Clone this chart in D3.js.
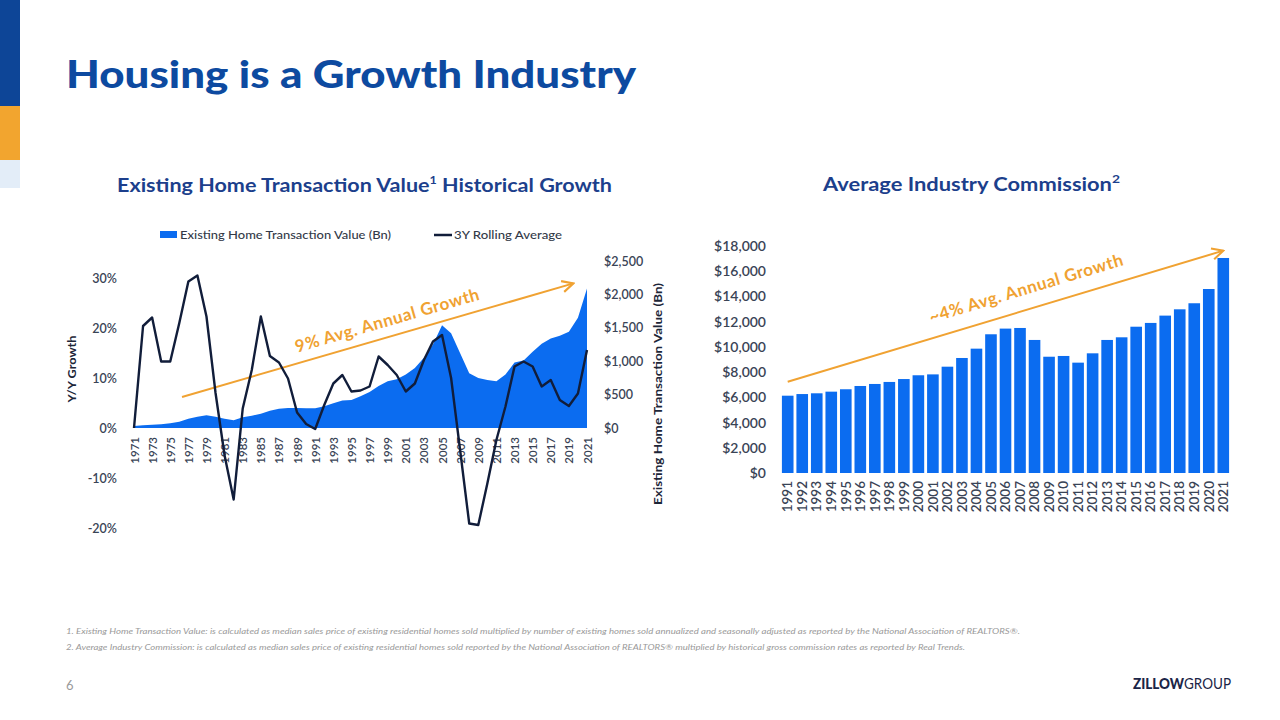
<!DOCTYPE html>
<html><head><meta charset="utf-8">
<script src="https://cdn.jsdelivr.net/npm/d3@7"></script>
<style>
html,body{margin:0;padding:0;background:#fff;}
svg{display:block;font-family:Lato,"Open Sans",sans-serif;}
</style></head>
<body>
<svg id="c" width="1280" height="720"></svg>
<script>
// ---------- data ----------
const txYears = d3.range(1971, 2022);
const txValueBn = [30,40,50,55,70,95,140,170,190,170,140,115,160,185,215,260,290,300,300,295,
  295,325,370,410,420,475,540,630,700,730,800,900,1050,1250,1540,1420,1120,820,750,720,
  700,800,980,1010,1140,1260,1340,1380,1440,1650,2090];
const rollingAvgPct = [0,20.4,22.1,13.3,13.3,21,29.3,30.5,22.3,7,-5.5,-14.3,3.9,11.6,22.3,14.4,13.1,9.9,3.1,0.8,
  -0.2,4.6,8.9,10.6,7.3,7.5,8.3,14.3,12.6,10.6,7.3,8.9,13.6,17.3,18.6,10,-4.5,-19.1,-19.4,-11.1,
  -2.4,4.3,12.3,13.3,12.3,8.3,9.6,5.6,4.4,6.9,15.6];
const leftPctTicks = [-20,-10,0,10,20,30];
const leftValueTicks = [0,500,1000,1500,2000,2500];
const leftYearTicks = d3.range(1971, 2022, 2);

const commYears = d3.range(1991, 2022);
const commission = [6130,6260,6320,6450,6640,6900,7060,7220,7450,7750,7820,8430,9120,9860,
  11000,11450,11500,10550,9220,9280,8750,9490,10550,10760,11600,11900,12480,12980,13460,14590,17050];
const rightTicks = [0,2000,4000,6000,8000,10000,12000,14000,16000,18000];

// annotation trend arrows (in data units)
const leftTrend = [[1976.3, 465],[2019.5, 2165]];
const rightTrend = [[1991, 7240],[2021, 17630]];

// ---------- drawing ----------
const svg = d3.select("#c");
const BLUE = "#0b6cf0", NAVY = "#111d3a", ORANGE = "#f0a232", TXT = "#3a4456";

// side bars
svg.append("rect").attr("x",0).attr("y",0).attr("width",20).attr("height",106).attr("fill","#0d4597");
svg.append("rect").attr("x",0).attr("y",106).attr("width",20).attr("height",54).attr("fill","#f2a52f");
svg.append("rect").attr("x",0).attr("y",160).attr("width",20).attr("height",28).attr("fill","#e3edf8");

// title
svg.append("text").attr("x",66).attr("y",88).attr("font-size",38).attr("font-weight",900)
  .attr("fill","#0d4aa0").attr("textLength",570).attr("lengthAdjust","spacingAndGlyphs")
  .text("Housing is a Growth Industry");

// subtitles
const st1 = svg.append("text").attr("x",117).attr("y",192).attr("font-size",19).attr("font-weight",700)
  .attr("fill","#1c3f8c").attr("textLength",495).attr("lengthAdjust","spacingAndGlyphs");
st1.append("tspan").text("Existing Home Transaction Value");
st1.append("tspan").attr("font-size",11).attr("dy",-8).text("1");
st1.append("tspan").attr("dy",8).text(" Historical Growth");
const st2 = svg.append("text").attr("x",823).attr("y",191).attr("font-size",19).attr("font-weight",700)
  .attr("fill","#1c3f8c").attr("textLength",297).attr("lengthAdjust","spacingAndGlyphs");
st2.append("tspan").text("Average Industry Commission");
st2.append("tspan").attr("font-size",12).attr("dy",-8).text("2");

// ---- left chart ----
const x = d3.scaleLinear().domain([1971,2021]).range([134,587]);
const yL = d3.scaleLinear().domain([-20,30]).range([528,278]);
const yR = d3.scaleLinear().domain([0,2500]).range([428,261]);

const area = d3.area().x((d,i)=>x(txYears[i])).y0(yR(0)).y1(d=>yR(d));
svg.append("path").datum(txValueBn).attr("d",area).attr("fill",BLUE);

// axes
const gl = svg.append("g").attr("transform","translate(123,0)")
  .call(d3.axisLeft(yL).tickValues(leftPctTicks).tickSize(0).tickPadding(6).tickFormat(d=>d+"%"));
gl.select(".domain").remove();
gl.selectAll("text").attr("font-size",12.5).attr("fill",TXT).attr("font-family","Lato").attr("font-weight",600);

const gr = svg.append("g").attr("transform","translate(598,0)")
  .call(d3.axisRight(yR).tickValues(leftValueTicks).tickSize(0).tickPadding(6).tickFormat(d=>"$"+d3.format(",")(d)));
gr.select(".domain").remove();
gr.selectAll("text").attr("font-size",12.5).attr("fill",TXT).attr("font-family","Lato").attr("font-weight",600);

const gx = svg.append("g").attr("transform",`translate(0,${yL(0)})`)
  .call(d3.axisBottom(x).tickValues(leftYearTicks).tickSize(0).tickFormat(d3.format("d")));
gx.select(".domain").remove();
gx.selectAll("text").attr("transform","rotate(-90)").attr("x",-9).attr("y",0).attr("dy","0.35em")
  .attr("text-anchor","end").attr("font-size",11.5).attr("fill",TXT).attr("font-family","Lato").attr("font-weight",600);

// axis titles
svg.append("text").attr("transform","translate(76,369) rotate(-90)").attr("text-anchor","middle")
  .attr("font-size",12).attr("font-weight",700).attr("fill","#1d2638")
  .attr("textLength",67).attr("lengthAdjust","spacingAndGlyphs").text("Y/Y Growth");
svg.append("text").attr("transform","translate(662,394) rotate(-90)").attr("text-anchor","middle")
  .attr("font-size",12).attr("font-weight",700).attr("fill","#1d2638")
  .attr("textLength",222).attr("lengthAdjust","spacingAndGlyphs").text("Existing Home Transaction Value (Bn)");

// trend arrow left
const defs = svg.append("defs");
defs.append("marker").attr("id","ah").attr("viewBox","0 0 10 10").attr("refX",9).attr("refY",5)
  .attr("markerWidth",7).attr("markerHeight",7).attr("orient","auto")
  .append("path").attr("d","M1,1 L9,5 L1,9").attr("fill","none").attr("stroke",ORANGE).attr("stroke-width",1.5);
const p0 = [x(leftTrend[0][0]), yR(leftTrend[0][1])], p1 = [x(leftTrend[1][0]), yR(leftTrend[1][1])];
svg.append("line").attr("x1",p0[0]).attr("y1",p0[1]).attr("x2",p1[0]).attr("y2",p1[1])
  .attr("stroke",ORANGE).attr("stroke-width",2).attr("marker-end","url(#ah)");
const angL = Math.atan2(p1[1]-p0[1], p1[0]-p0[0])*180/Math.PI;
svg.append("text").attr("transform",`translate(389,326) rotate(${angL})`).attr("text-anchor","middle")
  .attr("font-size",17).attr("font-weight",700).attr("fill",ORANGE).attr("letter-spacing",0.6)
  .text("9% Avg. Annual Growth");

// rolling average line
const line = d3.line().x((d,i)=>x(txYears[i])).y(d=>yL(d));
svg.append("path").datum(rollingAvgPct).attr("d",line).attr("fill","none")
  .attr("stroke",NAVY).attr("stroke-width",2.4).attr("stroke-linejoin","round");

// legend
svg.append("rect").attr("x",160).attr("y",231).attr("width",17).attr("height",7).attr("fill",BLUE);
svg.append("text").attr("x",180).attr("y",239).attr("font-size",12).attr("fill","#333a48").attr("font-weight",500)
  .attr("textLength",211).attr("lengthAdjust","spacingAndGlyphs")
  .text("Existing Home Transaction Value (Bn)");
svg.append("line").attr("x1",434).attr("x2",452).attr("y1",235).attr("y2",235).attr("stroke",NAVY).attr("stroke-width",2.5);
svg.append("text").attr("x",454).attr("y",239).attr("font-size",12).attr("fill","#333a48").attr("font-weight",500)
  .attr("textLength",108).attr("lengthAdjust","spacingAndGlyphs")
  .text("3Y Rolling Average");

// ---- right chart ----
const xb = d3.scaleBand().domain(commYears).range([779,1232]).padding(0.2);
const yb = d3.scaleLinear().domain([0,18000]).range([473,246]);
svg.append("g").selectAll("rect").data(commission).join("rect")
  .attr("x",(d,i)=>xb(commYears[i])).attr("width",xb.bandwidth())
  .attr("y",d=>yb(d)).attr("height",d=>yb(0)-yb(d)).attr("fill",BLUE);

const gb = svg.append("g").attr("transform","translate(772,0)")
  .call(d3.axisLeft(yb).tickValues(rightTicks).tickSize(0).tickPadding(6).tickFormat(d=>"$"+d3.format(",")(d)));
gb.select(".domain").remove();
gb.selectAll("text").attr("font-size",14).attr("fill",TXT).attr("font-family","Lato").attr("font-weight",600);

const gbx = svg.append("g").attr("transform",`translate(0,${yb(0)})`)
  .call(d3.axisBottom(xb).tickSize(0).tickFormat(d3.format("d")));
gbx.select(".domain").remove();
gbx.selectAll("text").attr("transform","rotate(-90)").attr("x",-8).attr("y",0).attr("dy","0.35em")
  .attr("text-anchor","end").attr("font-size",13.5).attr("fill",TXT).attr("font-family","Lato").attr("font-weight",600);

const q0 = [xb(rightTrend[0][0])+xb.bandwidth()/2, yb(rightTrend[0][1])];
const q1 = [xb(rightTrend[1][0])+xb.bandwidth()/2, yb(rightTrend[1][1])];
svg.append("line").attr("x1",q0[0]).attr("y1",q0[1]).attr("x2",q1[0]).attr("y2",q1[1])
  .attr("stroke",ORANGE).attr("stroke-width",2).attr("marker-end","url(#ah)");
const angR = Math.atan2(q1[1]-q0[1], q1[0]-q0[0])*180/Math.PI;
svg.append("text").attr("transform",`translate(1028,294) rotate(${angR})`).attr("text-anchor","middle")
  .attr("font-size",17).attr("font-weight",700).attr("fill",ORANGE).attr("letter-spacing",0.6)
  .text("~4% Avg. Annual Growth");

// footnotes
svg.append("text").attr("x",66).attr("y",634).attr("font-size",8).attr("font-style","italic").attr("fill","#9a9a9a")
  .attr("textLength",954).attr("lengthAdjust","spacingAndGlyphs")
  .text("1. Existing Home Transaction Value: is calculated as median sales price of existing residential homes sold multiplied by number of existing homes sold annualized and seasonally adjusted as reported by the National Association of REALTORS®.");
svg.append("text").attr("x",66).attr("y",650).attr("font-size",8).attr("font-style","italic").attr("fill","#9a9a9a")
  .attr("textLength",899).attr("lengthAdjust","spacingAndGlyphs")
  .text("2. Average Industry Commission: is calculated as median sales price of existing residential homes sold reported by the National Association of REALTORS® multiplied by historical gross commission rates as reported by Real Trends.");

svg.append("text").attr("x",66).attr("y",690).attr("font-size",13).attr("fill","#9a9a9a").text("6");

const logo = svg.append("text").attr("x",1133).attr("y",689).attr("font-size",14.5).attr("fill","#1b2547")
  .attr("textLength",98).attr("lengthAdjust","spacingAndGlyphs");
logo.append("tspan").attr("font-weight",900).text("ZILLOW");
logo.append("tspan").attr("font-weight",400).text("GROUP");
</script>
</body></html>
